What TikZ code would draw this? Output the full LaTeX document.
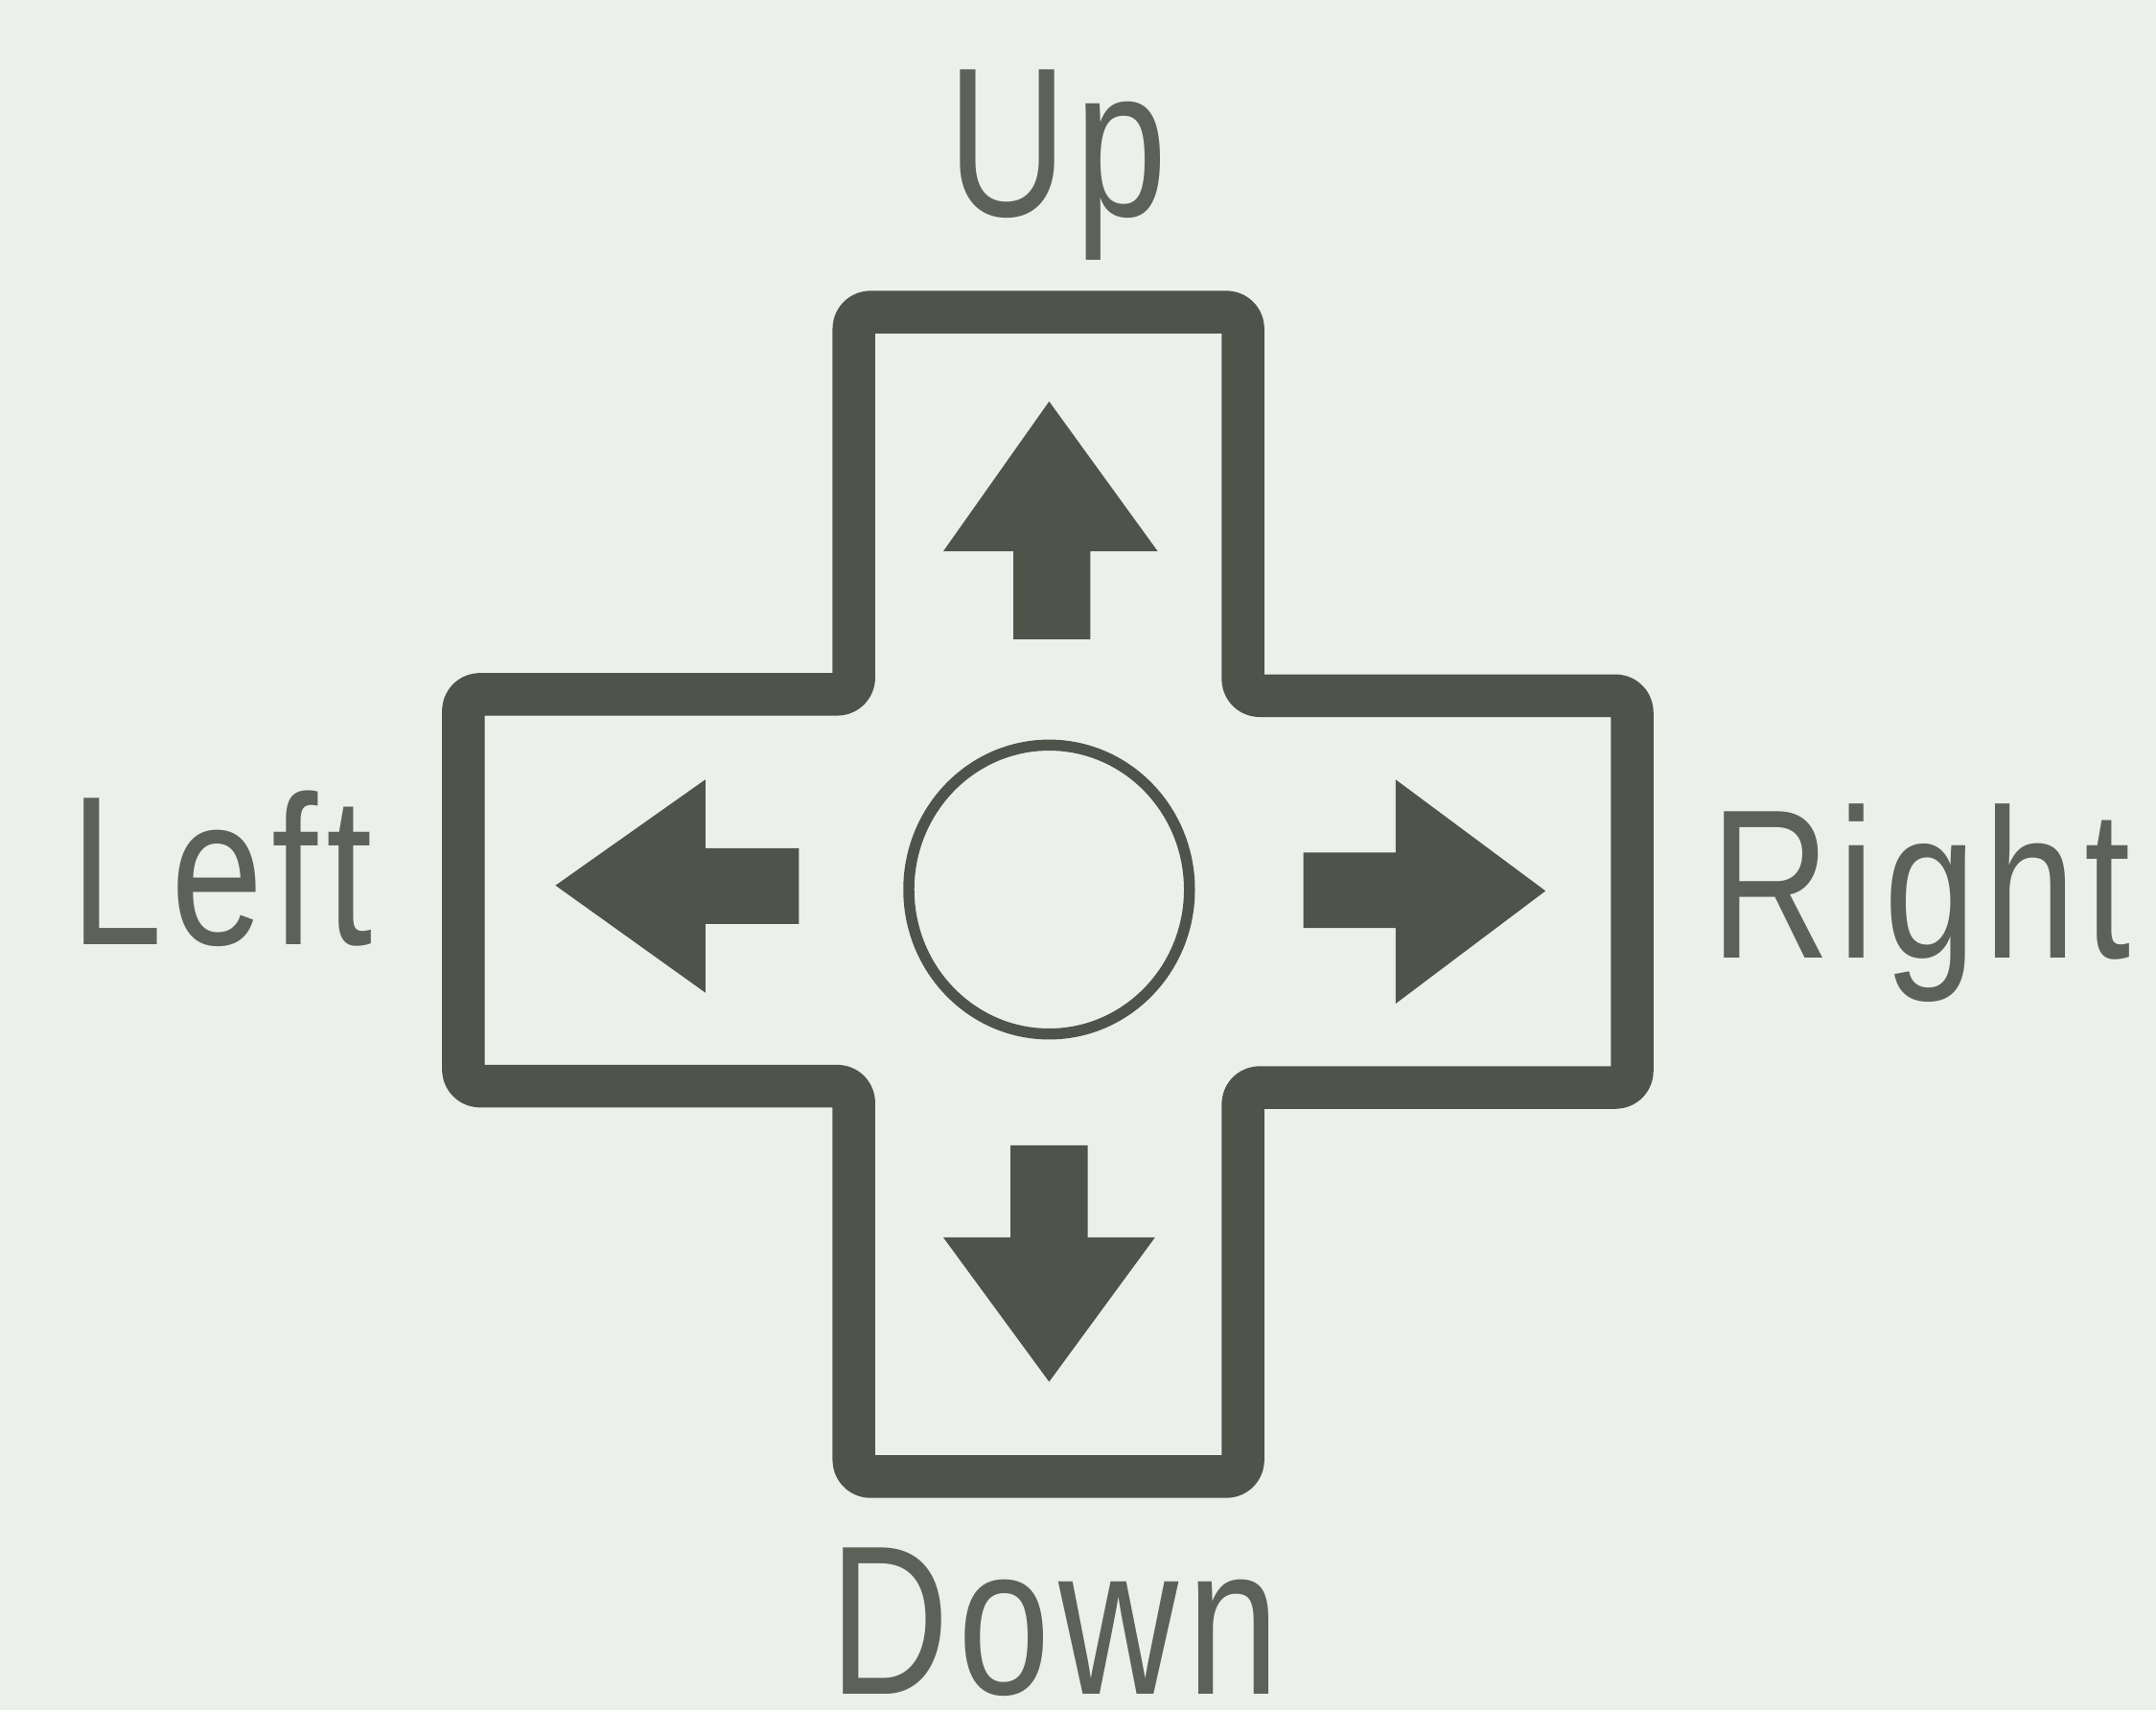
\documentclass[tikz,border=0pt]{standalone}
\usepackage{fontspec}
\setmainfont{Liberation Sans}[LetterSpace=5]
\definecolor{paper}{HTML}{EBF0EB}
\definecolor{ink}{HTML}{50534A}
\definecolor{labelink}{HTML}{5E6158}
\begin{document}
\begin{tikzpicture}[
    x=0.01cm, y=-0.01cm,
    labeltext/.style={text=labelink, inner sep=0pt, font=\fontsize{44}{44}\selectfont, xscale=0.78}
]

% --- Hintergrund ---
\fill[paper] (0,0) rectangle (1568,1244);

% --- Das Kreuz ---
\draw[ink, line width=0.31cm, rounded corners=0.12cm, line join=round]
    (621,505) -- (621,227) -- (904,227) -- (904,506) -- (1187,506) -- (1187,791)
    -- (904,791) -- (904,1074) -- (621,1074) -- (621,790) -- (337,790) -- (337,505) -- cycle;

% --- Mitte ---
\draw[ink, line width=0.08cm] (763,647) ellipse (1.02cm and 1.05cm);

% --- Die Pfeile ---
\fill[ink] (763,292) -- (842,401) -- (793,401) -- (793,465) -- (737,465) -- (737,401) -- (686,401) -- cycle; % oben
\fill[ink] (763,1005) -- (840,900) -- (791,900) -- (791,833) -- (735,833) -- (735,900) -- (686,900) -- cycle; % unten
\fill[ink] (404,644) -- (513,567) -- (513,617) -- (581,617) -- (581,672) -- (513,672) -- (513,722) -- cycle; % links
\fill[ink] (1124,648) -- (1015,567) -- (1015,620) -- (948,620) -- (948,675) -- (1015,675) -- (1015,730) -- cycle; % rechts

% --- Beschriftung ---
\node[labeltext] (up) at (769,120) {Up};
\node[labeltext] (down) at (767,1180) {Down};
\node[labeltext] (left) at (161,632) {Left};
\node[labeltext] (right) at (1397,657) {Right};

\end{tikzpicture}
\end{document}
